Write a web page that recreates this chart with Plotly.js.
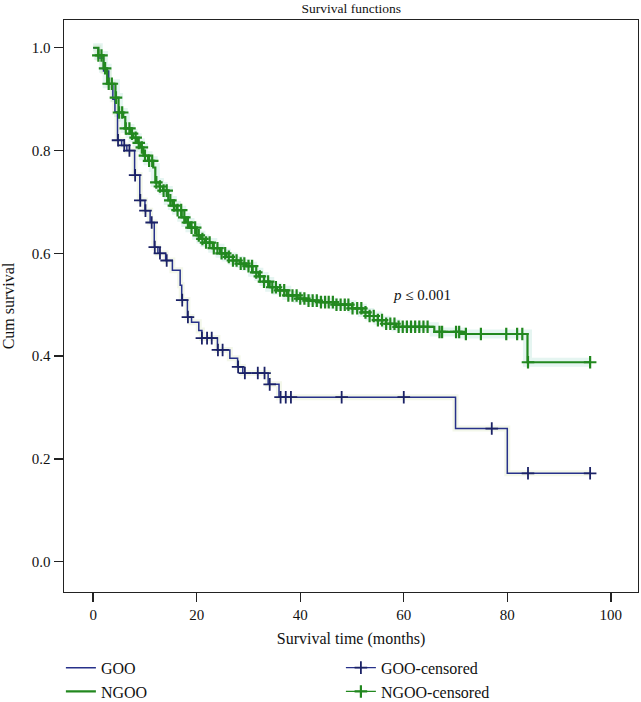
<!DOCTYPE html>
<html>
<head>
<meta charset="utf-8">
<script src="https://cdn.plot.ly/plotly-3.0.1.min.js"></script>
<style>
html,body{margin:0;padding:0;background:#fff;}
#chart{width:641px;height:702px;}
</style>
</head>
<body>
<div id="chart"></div>
<script>
// ---- Data ----
const gooTimes = [0, 1, 2, 3, 3.8, 4.2, 4.7, 5.5, 6.5, 8.0, 9.0, 10.0, 11.0, 11.8, 12.5, 14.0, 15.3, 16.8, 17.1, 18.2, 19.0, 20.4, 21.0, 24.0, 26.4, 27.9, 28.9, 33.8, 35.9, 70, 80, 96];
const gooSurv  = [1.0, 0.98, 0.955, 0.93, 0.9, 0.875, 0.82, 0.81, 0.80, 0.752, 0.703, 0.683, 0.66, 0.612, 0.60, 0.586, 0.567, 0.538, 0.509, 0.476, 0.466, 0.45, 0.435, 0.412, 0.396, 0.379, 0.367, 0.345, 0.32, 0.259, 0.172, 0.172];
const gooCensored = [4.8, 6.0, 7.0, 8.1, 9.1, 10.1, 11.3, 11.9, 12.9, 14.2, 17.2, 18.3, 21.0, 22.0, 22.9, 24.1, 25.0, 28.0, 29.3, 31.8, 33.1, 34.1, 36.2, 37.2, 38.2, 48, 60, 77, 84, 96];

const ngooTimes = [0, 1.0, 2.0, 2.7, 4.3, 4.9, 5.8, 6.2, 7.1, 7.7, 8.5, 9.1, 9.7, 10.6, 11.6, 12.0, 12.8, 13.5, 14.5, 15.3, 16.1, 17.1, 17.9, 18.7, 20.0, 20.8, 21.6, 23.1, 24.5, 25.7, 27.0, 28.4, 29.6, 30.8, 32.0, 33.0, 34.1, 35.5, 37.4, 39.5, 41.5, 43.7, 46.5, 50.0, 52.0, 53.4, 55.0, 56.6, 58.5, 65.9, 71.3, 83.9, 96];
const ngooSurv  = [1.0, 0.985, 0.96, 0.93, 0.903, 0.874, 0.865, 0.843, 0.833, 0.825, 0.815, 0.806, 0.79, 0.78, 0.767, 0.738, 0.73, 0.722, 0.703, 0.693, 0.684, 0.67, 0.66, 0.65, 0.635, 0.628, 0.621, 0.61, 0.60, 0.593, 0.586, 0.58, 0.575, 0.563, 0.555, 0.545, 0.534, 0.528, 0.518, 0.512, 0.508, 0.505, 0.50, 0.493, 0.485, 0.478, 0.47, 0.463, 0.457, 0.447, 0.443, 0.388, 0.388];
const ngooCensored = [1.0, 1.6, 2.3, 3.0, 3.6, 4.4, 5.0, 5.6, 6.3, 7.0, 7.5, 8.2, 8.8, 9.4, 10.0, 10.8, 11.4, 12.2, 12.9, 13.6, 14.2, 14.9, 15.6, 16.3, 17.0, 17.6, 18.3, 19.0, 19.7, 20.4, 21.1, 21.8, 22.5, 23.3, 24.0, 24.8, 25.5, 26.2, 27.0, 27.7, 28.5, 29.2, 30.0, 30.7, 31.5, 32.2, 33.0, 33.8, 34.6, 35.3, 36.1, 36.9, 37.7, 38.5, 39.3, 40.0, 40.8, 41.6, 42.4, 43.2, 44.0, 44.8, 45.5, 46.3, 47.0, 47.8, 48.6, 49.3, 50.1, 51.0, 51.8, 52.6, 53.4, 54.2, 55.0, 55.8, 56.6, 57.4, 58.2, 59.0, 59.8, 60.6, 61.4, 62.2, 63.0, 63.8, 64.6, 66.9, 67.4, 70.1, 70.7, 72.0, 74.9, 79.8, 81.9, 82.9, 84.0, 96.0];

const xTicks = [0, 20, 40, 60, 80, 100];
const yTicks = [0.0, 0.2, 0.4, 0.6, 0.8, 1.0];
const yTickText = ['0.0', '0.2', '0.4', '0.6', '0.8', '1.0'];
const seriesNames = ['GOO', 'NGOO'];
const pText = '<i>p</i> \u2264 0.001';
const pPos = [63.5, 0.519];

// survival level at time t (Kaplan-Meier step lookup)
function survAt(times, surv, t) {
  let s = surv[0];
  for (let i = 0; i < times.length; i++) { if (times[i] <= t) s = surv[i]; }
  return s;
}
// isolated points separated by gaps so only markers are drawn
function censorXY(times, surv, cens) {
  const x = [], y = [];
  cens.forEach(t => { x.push(t, null); y.push(survAt(times, surv, t), null); });
  return {x, y};
}

const BLUE = '#27318a';
const BLUE_DARK = '#1b2266';
const GREEN = '#22881f';
const serif = 'Liberation Serif, Times New Roman, serif';

const gc = censorXY(gooTimes, gooSurv, gooCensored);
const nc = censorXY(ngooTimes, ngooSurv, ngooCensored);

const traces = [
  // halos (print blur)
  {x: gooTimes, y: gooSurv, mode: 'lines', line: {shape: 'hv', color: 'rgba(200,220,160,0.22)', width: 6}, showlegend: false, hoverinfo: 'skip'},
  {x: ngooTimes, y: ngooSurv, mode: 'lines', line: {shape: 'hv', color: 'rgba(150,215,200,0.25)', width: 9}, showlegend: false, hoverinfo: 'skip'},
  {x: gooTimes, y: gooSurv, name: seriesNames[0], mode: 'lines',
   line: {shape: 'hv', color: BLUE, width: 1.5}},
  {x: gc.x, y: gc.y, name: seriesNames[0] + '-censored', mode: 'lines+markers', connectgaps: false,
   line: {color: BLUE, width: 1.3},
   marker: {symbol: 'cross-thin', size: 9, line: {color: BLUE_DARK, width: 1.8}}},
  {x: ngooTimes, y: ngooSurv, name: seriesNames[1], mode: 'lines',
   line: {shape: 'hv', color: GREEN, width: 2.2}},
  {x: nc.x, y: nc.y, name: seriesNames[1] + '-censored', mode: 'lines+markers', connectgaps: false,
   line: {color: GREEN, width: 1.3},
   marker: {symbol: 'cross-thin', size: 9, line: {color: GREEN, width: 2.2}}}
];

const layout = {
  width: 641, height: 702,
  margin: {l: 64, r: 3, t: 20, b: 110, autoexpand: false},
  paper_bgcolor: '#fff', plot_bgcolor: '#fff',
  font: {family: serif, size: 15, color: '#111'},
  title: {text: 'Survival functions', font: {family: serif, size: 13.5, color: '#111'},
          x: 0.548, xanchor: 'center', xref: 'container', y: 0.995, yanchor: 'top', yref: 'container'},
  xaxis: {range: [-5.64, 105.25], tickvals: xTicks, ticktext: xTicks.map(String),
          showgrid: false, zeroline: false, showline: true, mirror: true, linecolor: '#222', linewidth: 1.4,
          ticks: 'outside', ticklen: 9, tickwidth: 1.4, tickcolor: '#222',
          tickfont: {family: serif, size: 15},
          title: {text: 'Survival time (months)', font: {family: serif, size: 16}, standoff: 10}},
  yaxis: {range: [-0.059, 1.054], tickvals: yTicks, ticktext: yTickText,
          showgrid: false, zeroline: false, showline: true, mirror: true, linecolor: '#222', linewidth: 1.4,
          ticks: 'outside', ticklen: 9, tickwidth: 1.4, tickcolor: '#222',
          tickfont: {family: serif, size: 15},
          title: {text: 'Cum survival', font: {family: serif, size: 16}, standoff: 14}},
  showlegend: true,
  legend: {orientation: 'h', x: 0.095, xref: 'container', xanchor: 'left', y: 0.073, yref: 'container', yanchor: 'top',
           entrywidth: 235, entrywidthmode: 'pixels', traceorder: 'normal',
           font: {family: serif, size: 16, color: '#111'}, bgcolor: 'rgba(0,0,0,0)', tracegroupgap: 0},
  annotations: [{x: pPos[0], y: pPos[1], xref: 'x', yref: 'y', text: pText, showarrow: false,
                 font: {family: serif, size: 15, color: '#111'}, xanchor: 'center', yanchor: 'middle'}]
};

Plotly.newPlot('chart', traces, layout, {displayModeBar: false, staticPlot: true});
</script>
</body>
</html>
